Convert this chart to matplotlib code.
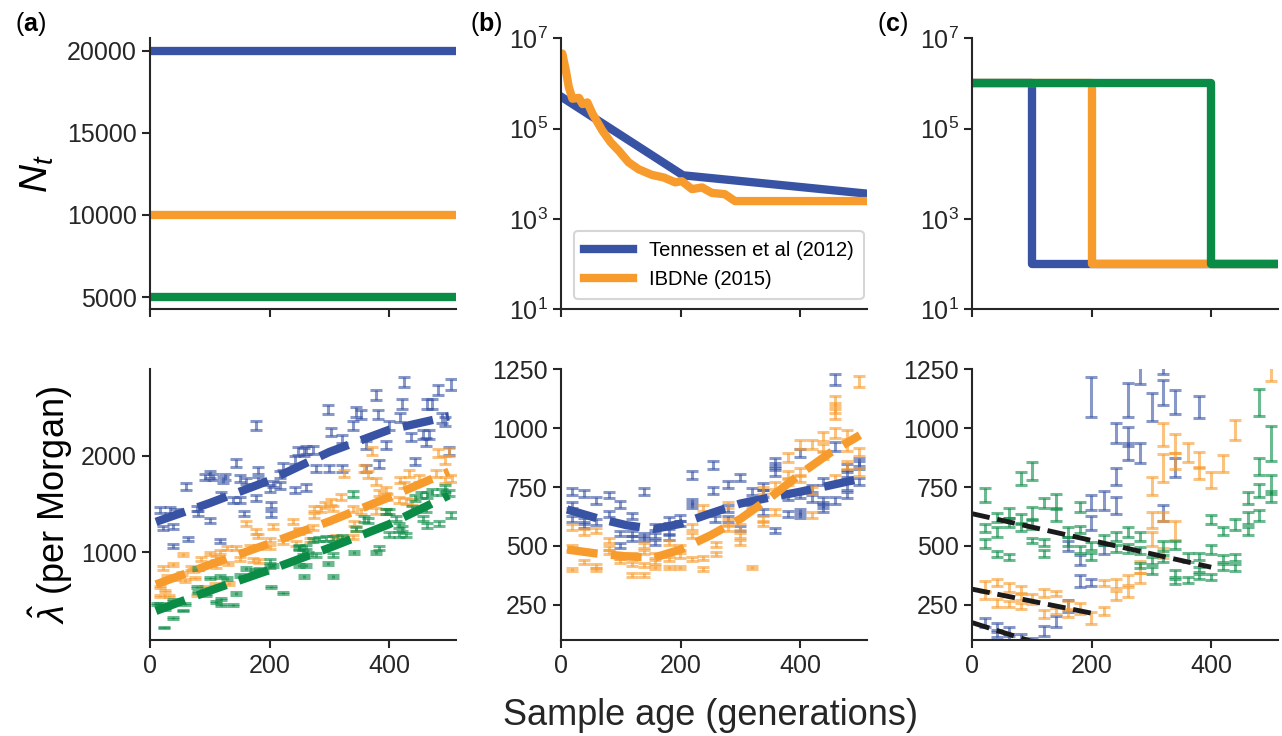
import matplotlib
matplotlib.use("Agg")
import matplotlib.pyplot as plt
import numpy as np

plt.rcParams['font.family'] = ['Liberation Sans', 'DejaVu Sans']
plt.rcParams['mathtext.fontset'] = 'custom'
plt.rcParams['mathtext.rm'] = 'Liberation Sans'
plt.rcParams['mathtext.it'] = 'Liberation Sans:italic'
plt.rcParams['mathtext.bf'] = 'Liberation Sans:bold'
plt.rcParams['axes.linewidth'] = 1.5
plt.rcParams['axes.edgecolor'] = '#262626'
plt.rcParams['xtick.color'] = '#262626'
plt.rcParams['ytick.color'] = '#262626'
plt.rcParams['xtick.major.size'] = 6
plt.rcParams['ytick.major.size'] = 6
plt.rcParams['xtick.major.width'] = 1.5
plt.rcParams['ytick.major.width'] = 1.5
plt.rcParams['xtick.labelsize'] = 18
plt.rcParams['ytick.labelsize'] = 18

BLUE = '#3953a4'
ORANGE = '#f89b2d'
GREEN = '#0b8c46'

# ---- top row: demographic models ----
const_N = [20000, 10000, 5000]

tenn_age = [0, 204, 512]
tenn_N = [512000, 9300, 3650]

ibdne_age = [0, 2, 8, 13, 19, 30, 36, 44, 53, 69, 83, 97, 113, 130, 152, 172, 191,
             202, 219, 236, 252, 274, 291, 512]
ibdne_N = [3.5e6, 4.6e6, 1.95e6, 8.3e5, 4.6e5, 4.8e5, 3.5e5, 3.8e5, 2.1e5, 9.1e4,
           5.0e4, 3.2e4, 1.8e4, 1.26e4, 9.5e3, 8.3e3, 6.5e3, 6.9e3, 4.6e3, 5.0e3,
           3.8e3, 3.55e3, 2.5e3, 2.5e3]

bottle_age = [0, 100, 200, 400]   # bottleneck onset per model
bottle_hi = 1e6
bottle_lo = 100

# ---- bottom row (a): constant size ----
a_blue_age = [17, 22, 33, 39, 39, 44, 61, 64, 78, 81, 92, 100, 100, 105, 117, 119, 122, 125,
              139, 144, 150, 150, 158, 161, 178, 178, 181, 181, 203, 203, 200, 206, 217, 217,
              222, 242, 242, 247, 258, 261, 261, 272, 278, 297, 300, 303, 322, 322, 339, 344,
              353, 361, 361, 378, 381, 383, 394, 400, 419, 422, 425, 436, 444, 456, 461, 464,
              467, 472, 482, 489, 494, 500, 503]
a_blue_lam = [1437, 1250, 1437, 1264, 1066, 1420, 1680, 1135, 1455, 1403, 1780, 1802, 1333,
              1780, 1115, 1594, 1750, 1780, 1541, 1924, 1541, 1768, 1403, 1740, 2316, 1559,
              1844, 1750, 1490, 1396, 1663, 1708, 1690, 1802, 1889, 1958, 1646, 2052, 2042,
              2062, 1670, 2062, 1865, 2479, 1865, 2247, 2177, 1865, 2316, 2455, 2427, 2115,
              1872, 2629, 2427, 1917, 2115, 2312, 2396, 2538, 2767, 2194, 1941, 2219, 2143,
              2538, 2219, 2538, 2681, 2392, 2357, 2052, 2740]

a_orange_age = [17, 17, 22, 25, 28, 31, 39, 42, 53, 56, 58, 69, 72, 75, 78, 86, 92, 100, 108,
                111, 111, 117, 119, 128, 131, 133, 144, 150, 161, 167, 172, 178, 181, 181, 183,
                200, 200, 206, 222, 239, 244, 250, 250, 261, 267, 272, 275, 275, 286, 292, 303,
                306, 311, 319, 322, 325, 339, 339, 342, 344, 353, 358, 364, 372, 378, 378, 383,
                394, 394, 397, 417, 419, 425, 428, 433, 439, 450, 478, 481, 494, 494, 500, 506]
a_orange_lam = [639, 545, 836, 594, 743, 545, 872, 726, 778, 976, 708, 836, 812, 732, 552, 927,
                639, 986, 663, 940, 857, 1003, 649, 1045, 882, 674, 1045, 927, 1299, 1056, 917,
                1212, 1170, 1056, 906, 1125, 1056, 1268, 1108, 1316, 1090, 1212, 1229, 1229,
                1125, 1253, 1378, 1455, 1448, 1490, 1524, 1455, 1160, 1576, 1142, 1819, 1160,
                1448, 1299, 1247, 1420, 1872, 1802, 2052, 1733, 1427, 1611, 1646, 1420, 1576,
                1541, 1750, 1698, 1531, 1819, 1524, 1767, 1819, 2028, 1750, 1958, 2038, 1767]

a_green_age = [11, 17, 23, 25, 39, 39, 56, 58, 78, 81, 81, 94, 100, 111, 117, 119, 119, 128,
               139, 144, 150, 161, 175, 183, 189, 200, 200, 203, 206, 222, 250, 250, 250, 256,
               258, 261, 261, 264, 272, 278, 283, 294, 297, 306, 306, 306, 322, 339, 342, 344,
               358, 364, 378, 383, 394, 400, 400, 411, 417, 417, 422, 428, 439, 444, 453, 456,
               461, 464, 464, 472, 483, 489, 494, 500, 503]
a_green_lam = [466, 466, 222, 413, 500, 316, 396, 466, 639, 587, 830, 552, 732, 483, 743, 518,
               455, 726, 455, 570, 760, 830, 812, 823, 795, 906, 854, 639, 865, 580, 1045, 1056,
               865, 1003, 743, 1056, 865, 986, 1125, 969, 1135, 1142, 882, 1142, 969, 743, 1160,
               1601, 997, 1240, 1344, 1333, 997, 1045, 1420, 1420, 1184, 1351, 1184, 1281, 1247,
               1177, 1448, 1559, 1594, 1351, 1448, 1594, 1281, 1628, 1299, 1628, 1663, 1611, 1385]

a_fit_age = [10, 100, 200, 300, 400, 500]
a_fit_blue = [1315, 1510, 1745, 2040, 2270, 2410]
a_fit_orange = [665, 870, 1090, 1320, 1570, 1836]
a_fit_green = [390, 600, 815, 1045, 1290, 1590]

# ---- bottom row (b): realistic models ----
b_blue_age = [19, 19, 19, 38, 38, 38, 58, 58, 80, 80, 99, 99, 99, 119, 119, 119, 138, 138, 138,
              158, 158, 158, 180, 180, 180, 199, 199, 219, 219, 219, 255, 255, 258, 279, 280, 280,
              299, 299, 319, 319, 338, 338, 338, 358, 358, 358, 358, 379, 379, 399, 399, 399, 399,
              419, 419, 438, 438, 438, 438, 458, 458, 458, 479, 479, 479, 479, 499, 499, 499]
b_blue_lam = [730, 673, 616, 723, 605, 588, 694, 602, 716, 637, 676, 552, 502, 627, 552, 531,
              730, 545, 531, 580, 545, 516, 609, 559, 538, 619, 595, 801, 687, 673, 844, 737,
              616, 761, 659, 616, 790, 573, 730, 687, 751, 723, 644, 858, 837, 815, 566, 708,
              637, 894, 716, 644, 630, 744, 701, 694, 673, 659, 773, 1207, 922, 694, 830, 808,
              751, 716, 858, 844, 773]

b_orange_age = [19, 19, 19, 38, 38, 58, 58, 58, 80, 80, 80, 99, 99, 119, 119, 119, 138, 138, 138,
                138, 158, 158, 158, 180, 180, 180, 199, 199, 199, 219, 219, 219, 238, 238, 238,
                259, 259, 280, 280, 280, 299, 299, 299, 319, 319, 319, 338, 338, 338, 358, 358,
                379, 379, 379, 399, 399, 399, 419, 419, 419, 438, 438, 438, 458, 458, 458, 458,
                458, 479, 479, 479, 499, 499, 499]
b_orange_lam = [580, 495, 400, 559, 431, 566, 417, 400, 523, 491, 474, 452, 438, 459, 424, 377,
                502, 474, 420, 377, 459, 431, 409, 516, 445, 409, 495, 459, 409, 580, 545, 445,
                661, 448, 402, 505, 467, 673, 602, 573, 580, 545, 516, 690, 676, 409, 737, 616,
                595, 758, 644, 875, 801, 773, 929, 815, 787, 929, 737, 630, 965, 915, 887, 1115,
                1086, 1058, 979, 787, 972, 922, 844, 1197, 898, 815]

b_fit_age = [10, 60, 110, 155, 200, 250, 300, 350, 400, 450, 500]
b_fit_blue = [655, 618, 588, 572, 594, 638, 680, 706, 730, 757, 785]
b_fit_orange = [485, 468, 456, 450, 485, 545, 615, 705, 805, 895, 970]

# ---- bottom row (c): bottlenecks ----
c_green_age = [21, 21, 21, 41, 41, 41, 61, 61, 61, 82, 82, 82, 101, 101, 101, 101, 121, 121, 121,
               141, 141, 161, 161, 180, 180, 180, 199, 199, 221, 241, 241, 261, 261, 281, 281, 281,
               301, 301, 319, 319, 340, 340, 340, 361, 361, 380, 380, 380, 399, 399, 399, 420, 420,
               420, 440, 440, 440, 461, 461, 461, 480, 480, 480, 480, 500, 500, 500]
c_green_lam = [716, 577, 510, 620, 560, 467, 640, 600, 452, 785, 615, 580, 819, 640, 590, 523,
               681, 516, 467, 690, 630, 560, 520, 665, 570, 485, 500, 455, 525, 540, 490, 560, 490,
               540, 480, 417, 440, 395, 500, 445, 505, 385, 350, 452, 355, 455, 400, 370, 612, 485,
               367, 562, 445, 412, 591, 450, 410, 705, 620, 562, 1107, 838, 735, 630, 935, 760, 710]
c_green_err = [31, 18, 18, 20, 20, 12, 22, 20, 12, 27, 20, 18, 39, 25, 20, 12, 22, 14, 14, 30,
               25, 20, 18, 20, 15, 15, 18, 15, 20, 20, 15, 20, 20, 20, 15, 12, 15, 15, 20, 15, 17,
               15, 12, 20, 12, 15, 12, 12, 18, 20, 13, 17, 15, 12, 25, 15, 15, 25, 25, 17, 57, 37,
               27, 22, 75, 40, 25]

c_blue_age = [21, 41, 41, 61, 61, 82, 101, 121, 141, 161, 161, 180, 180, 199, 199, 199, 199, 221,
              221, 241, 241, 241, 261, 261, 261, 281, 281, 301, 319, 319, 319, 340, 340, 380]
c_blue_lam = [175, 160, 125, 140, 110, 115, 100, 140, 180, 245, 500, 440, 350, 1130, 684, 597,
              345, 692, 485, 980, 794, 672, 1120, 965, 900, 1230, 894, 1090, 1290, 1153, 640,
              1110, 833, 1090]
c_blue_err = [20, 15, 12, 15, 10, 12, 10, 20, 25, 25, 20, 22, 25, 85, 32, 30, 16, 40, 20, 43, 36,
              36, 72, 40, 35, 45, 43, 60, 60, 53, 35, 51, 40, 46]

c_orange_age = [21, 21, 41, 41, 61, 61, 82, 82, 82, 101, 121, 121, 141, 141, 161, 161, 180, 199,
                221, 221, 241, 241, 261, 261, 281, 281, 301, 301, 301, 319, 319, 319, 319, 340,
                340, 340, 361, 380, 380, 399, 420, 440, 500]
c_orange_lam = [330, 290, 345, 258, 323, 255, 315, 285, 246, 275, 300, 213, 300, 225, 250, 215,
                235, 195, 342, 225, 340, 290, 355, 305, 410, 365, 755, 610, 530, 972, 830, 625,
                470, 935, 860, 565, 897, 865, 810, 779, 851, 993, 1240]
c_orange_err = [20, 15, 14, 18, 20, 12, 15, 12, 12, 20, 17, 17, 10, 12, 18, 15, 22, 25, 12, 18,
                20, 20, 20, 20, 25, 20, 39, 35, 30, 50, 60, 20, 22, 40, 35, 40, 40, 35, 25, 35, 36,
                43, 40]

c_fit_green_age = [0, 400]
c_fit_green = [637, 410]
c_fit_orange_age = [0, 200]
c_fit_orange = [317, 215]
c_fit_blue_age = [0, 100]
c_fit_blue = [175, 95]

rel_err = 0.02  # relative size of the error bars in (a) and (b)

fig, axes = plt.subplots(2, 3, figsize=(12.82, 7.36), dpi=100)
fig.subplots_adjust(left=0.117, right=0.997, bottom=0.130, top=0.948,
                    wspace=0.343, hspace=0.22)

for ax in axes.flat:
    ax.spines['top'].set_visible(False)
    ax.spines['right'].set_visible(False)
    ax.set_xlim(0, 512)
    ax.set_xticks([0, 200, 400])

# (a) top
ax = axes[0, 0]
for N, c in zip(const_N, [BLUE, ORANGE, GREEN]):
    ax.axhline(N, color=c, lw=6)
ax.set_yticks([5000, 10000, 15000, 20000])
ax.set_ylim(4250, 20750)
ax.set_xticklabels([])
ax.set_ylabel(r'$N_t$', fontsize=28, labelpad=8)

# (b) top
ax = axes[0, 1]
ax.plot(tenn_age, tenn_N, color=BLUE, lw=6, label='Tennessen et al (2012)')
ax.plot(ibdne_age, ibdne_N, color=ORANGE, lw=6, label='IBDNe (2015)')
ax.set_yscale('log')
ax.set_ylim(10, 1e7)
ax.set_yticks([10, 1e3, 1e5, 1e7])
ax.minorticks_off()
ax.set_xticklabels([])
leg = ax.legend(loc='lower left', fontsize=14.5, handlelength=2.4, frameon=True,
                fancybox=True, borderpad=0.5, bbox_to_anchor=(0.01, 0.0))
leg.get_frame().set_edgecolor('#cccccc')
leg.get_frame().set_linewidth(1.5)

# (c) top
ax = axes[0, 2]
for t, c in zip(bottle_age[1:], [BLUE, ORANGE, GREEN]):
    ax.step([0, t, 512], [bottle_hi, bottle_lo, bottle_lo], where='post',
            color=c, lw=6, solid_joinstyle='round')
ax.set_yscale('log')
ax.set_ylim(10, 1e7)
ax.set_yticks([10, 1e3, 1e5, 1e7])
ax.minorticks_off()
ax.set_xticklabels([])

eb = dict(fmt='none', elinewidth=2.2, capsize=4.5, capthick=2.2, alpha=0.6)

# (a) bottom
ax = axes[1, 0]
for age, lam, c in [(a_blue_age, a_blue_lam, BLUE), (a_orange_age, a_orange_lam, ORANGE),
                    (a_green_age, a_green_lam, GREEN)]:
    lam = np.array(lam)
    ax.errorbar(age, lam, yerr=lam * rel_err, ecolor=c, **eb)
for fit, c in [(a_fit_blue, BLUE), (a_fit_orange, ORANGE), (a_fit_green, GREEN)]:
    ax.plot(a_fit_age, fit, color=c, lw=6, ls='--')
ax.set_ylim(85, 2900)
ax.set_yticks([1000, 2000])
ax.set_ylabel(r'$\hat{\lambda}$ (per Morgan)', fontsize=26)

# (b) bottom
ax = axes[1, 1]
for age, lam, c in [(b_blue_age, b_blue_lam, BLUE), (b_orange_age, b_orange_lam, ORANGE)]:
    lam = np.array(lam)
    ax.errorbar(age, lam, yerr=lam * rel_err, ecolor=c, **eb)
ax.plot(b_fit_age, b_fit_blue, color=BLUE, lw=6, ls='--')
ax.plot(b_fit_age, b_fit_orange, color=ORANGE, lw=6, ls='--')
ax.set_ylim(100, 1250)
ax.set_yticks([250, 500, 750, 1000, 1250])

# (c) bottom
ax = axes[1, 2]
for age, lam, err, c in [(c_blue_age, c_blue_lam, c_blue_err, BLUE),
                         (c_orange_age, c_orange_lam, c_orange_err, ORANGE),
                         (c_green_age, c_green_lam, c_green_err, GREEN)]:
    ax.errorbar(age, lam, yerr=err, ecolor=c, **eb)
ax.plot(c_fit_green_age, c_fit_green, color='#1a1a1a', lw=3.5, ls='--')
ax.plot(c_fit_orange_age, c_fit_orange, color='#1a1a1a', lw=3.5, ls='--')
ax.plot(c_fit_blue_age, c_fit_blue, color='#1a1a1a', lw=3.5, ls='--')
ax.set_ylim(100, 1250)
ax.set_yticks([250, 500, 750, 1000, 1250])

fig.text(0.5545, 0.004, 'Sample age (generations)', ha='center', va='bottom', fontsize=26,
         color='#262626')
for x, lab in [(0.012, 'a'), (0.367, 'b'), (0.684, 'c')]:
    fig.text(x, 0.949, '(' + r'$\mathbf{' + lab + '}$' + ')', fontsize=18, va='bottom')

fig.savefig('out.png', dpi=100)
